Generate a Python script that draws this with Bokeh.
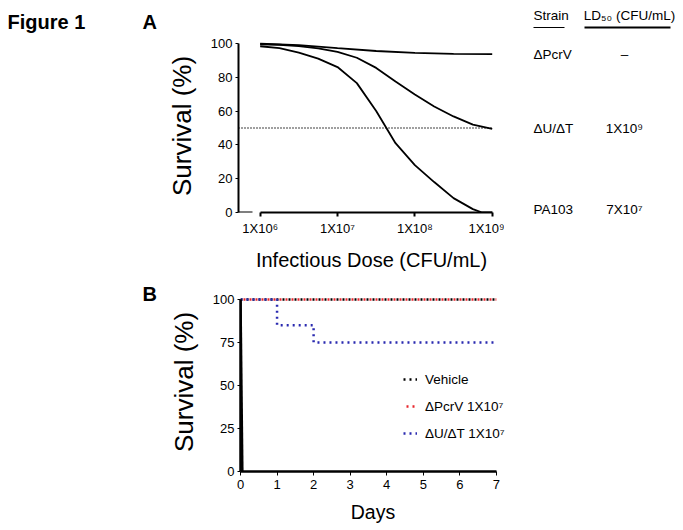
from bokeh.plotting import figure
from bokeh.models import Range1d, FixedTicker, Legend, LegendItem, Arrow, ColumnDataSource
from bokeh.layouts import column, row
from bokeh.embed import file_html
from bokeh.resources import INLINE
from bokeh.core.properties import value

FONT = "Liberation Sans"

# ---------------- Panel A data (log10 infectious dose -> survival %) ----------------
dose_pcrv = [6.0, 6.5, 7.0, 7.5, 8.0, 8.5, 9.0]
surv_pcrv = [99.8, 99.0, 97.2, 95.5, 94.4, 93.8, 93.6]

dose_ut = [6.0, 6.25, 6.5, 6.75, 7.0, 7.25, 7.5, 7.75, 8.0, 8.25, 8.5, 8.75, 9.0]
surv_ut = [99.5, 99.2, 98.4, 97.0, 95.0, 91.5, 85.5, 77.5, 69.8, 62.7, 56.8, 52.0, 49.5]

dose_pa103 = [6.0, 6.25, 6.5, 6.75, 7.0, 7.25, 7.5, 7.75, 8.0, 8.25, 8.5, 8.75, 8.87, 9.0]
surv_pa103 = [98.3, 97.2, 94.5, 91.0, 86.0, 76.5, 60.0, 41.0, 28.0, 18.0, 8.5, 2.0, 0.0, 0.0]

ld50_level = 50
x_ticks_a = [6, 7, 8, 9]
x_tick_labels_a = ["1X10⁶", "1X10⁷", "1X10⁸", "1X10⁹"]
y_ticks_a = [0, 20, 40, 60, 80, 100]

strains = ["ΔPcrV", "ΔU/ΔT", "PA103"]
ld50_values = ["–", "1X10⁹", "7X10⁷"]
table_headers = ["Strain", "LD₅₀ (CFU/mL)"]

# ---------------- Panel B data (days -> survival %) ----------------
days_vehicle = [0, 7]
surv_vehicle = [100, 100]
days_pcrv = [0, 7]
surv_pcrv_b = [100, 100]
days_ut = [0, 1, 2, 7]
surv_ut_b = [100, 85, 75, 75]
days_pa103 = [0, 0.05]
surv_pa103_b = [100, 0]
x_ticks_b = [0, 1, 2, 3, 4, 5, 6, 7]
y_ticks_b = [0, 25, 50, 75, 100]
legend_labels = ["Vehicle", "ΔPcrV 1X10⁷", "ΔU/ΔT 1X10⁷"]

panel_titles = ["Figure 1", "A", "B"]

# ---------------- layout geometry (page pixels) ----------------
LW = 160            # left strip holding "Figure 1", "A", "B"
HA = 273            # height of panel A row
HB = 250            # height of panel B figure
TOTAL_H = HA + HB
TABLE_LEFT = 504
TABLE_W = 176

# ---------------- Panel A ----------------
A_FRAME_LEFT = 238
A_FRAME_BOTTOM = 212
XA0 = 5.72
PX_DEC = 77.35
FW_A = TABLE_LEFT - A_FRAME_LEFT
XA1 = XA0 + FW_A / PX_DEC
PX_PCT_A = 1.69
YA1 = 102.3
FH_A = int(round(YA1 * PX_PCT_A))
TA = A_FRAME_BOTTOM - FH_A

def ax(px):  # page px -> data x (panel A)
    return XA0 + (px - A_FRAME_LEFT) / PX_DEC

def a_py(v):  # survival value -> page px (panel A)
    return A_FRAME_BOTTOM - v * FH_A / YA1

pa = figure(frame_width=FW_A, frame_height=FH_A,
            x_range=Range1d(XA0, XA1), y_range=Range1d(0, YA1),
            output_backend="svg", toolbar_location=None, title=None,
            min_border_left=A_FRAME_LEFT - LW, min_border_right=0,
            min_border_top=TA, min_border_bottom=HA - FH_A - TA)
pa.frame_align = False
pa.outline_line_color = None
pa.grid.visible = False

for xs, ys in [(dose_pcrv, surv_pcrv), (dose_ut, surv_ut), (dose_pa103, surv_pa103)]:
    pa.line(xs, ys, line_color="black", line_width=1.8)

pa.line([XA0, x_ticks_a[-1]], [ld50_level, ld50_level], line_color="black",
        line_width=1.5, line_dash="1 2")

xa = pa.xaxis[0]
xa.ticker = FixedTicker(ticks=x_ticks_a)
xa.major_label_overrides = {t: l for t, l in zip(x_ticks_a, x_tick_labels_a)}
xa.bounds = (x_ticks_a[0], x_ticks_a[-1])
xa.minor_tick_line_color = None
xa.axis_line_width = 2
xa.major_tick_line_width = 2
xa.major_tick_out = 4
xa.major_tick_in = 0
xa.major_label_standoff = 4
xa.major_label_text_font = FONT
xa.major_label_text_font_size = "13px"
xa.major_label_text_color = "black"
xa.axis_label = "Infectious Dose (CFU/mL)"
xa.axis_label_text_font = FONT
xa.axis_label_text_font_size = "20px"
xa.axis_label_text_font_style = "normal"
xa.axis_label_text_color = "black"
xa.axis_label_standoff = 10

ya = pa.yaxis[0]
ya.ticker = FixedTicker(ticks=y_ticks_a)
ya.bounds = (0, 100)
ya.minor_tick_line_color = None
ya.axis_line_width = 2
ya.major_tick_out = 3
ya.major_tick_in = 0
ya.major_label_standoff = 3
ya.major_label_text_font = FONT
ya.major_label_text_font_size = "13px"
ya.major_label_text_color = "black"
ya.axis_label = "Survival (%)"
ya.axis_label_text_font = FONT
ya.axis_label_text_font_size = "26px"
ya.axis_label_text_font_style = "normal"
ya.axis_label_text_color = "black"
ya.axis_label_standoff = 11

# broken x-axis stub
pa.add_layout(Arrow(end=None, x_start=XA0, y_start=0, x_end=ax(252), y_end=0,
                    line_width=2, line_color="black"))

# ---------------- table to the right of panel A ----------------
pt = figure(frame_width=TABLE_W, frame_height=HA,
            x_range=Range1d(TABLE_LEFT, TABLE_LEFT + TABLE_W),
            y_range=Range1d(HA, 0), output_backend="svg", toolbar_location=None, title=None,
            x_axis_location=None, y_axis_location=None,
            min_border_left=0, min_border_right=0, min_border_top=0, min_border_bottom=0)
pt.frame_align = False
pt.outline_line_color = None
pt.grid.visible = False

row_y = [a_py(surv_pcrv[-1]), a_py(surv_ut[-1]), a_py(surv_pa103[-1]) - 3.5]
tab = ColumnDataSource(dict(x1=[533] * 3, x2=[624] * 3, y=row_y, s=strains, l=ld50_values))
pt.text(x="x1", y="y", text="s", source=tab, text_font=value(FONT),
        text_font_size="13.5px", text_baseline="middle", text_align="left", text_color="black")
pt.text(x="x2", y="y", text="l", source=tab, text_font=value(FONT),
        text_font_size="13.5px", text_baseline="middle", text_align="center", text_color="black")
pt.text(x=[533, 629], y=[15, 15], text=table_headers, text_font=value(FONT),
        text_font_size="13.5px", text_baseline="middle", text_align=["left", "center"],
        text_color="black")
pt.segment(x0=[533, 584], y0=[27, 27], x1=[564, 670], y1=[27, 27], line_color="black",
           line_width=[1.2, 2.2])

# ---------------- Panel B ----------------
B_FRAME_LEFT = 240
PX_DAY = 36.57
XB1 = 7.25
FW_B = int(round(XB1 * PX_DAY))
PX_PCT = 1.72
YB1 = 104
FH_B = int(round(YB1 * PX_PCT))
B_FRAME_BOTTOM = 471
TB = B_FRAME_BOTTOM - FH_B - HA
BB = HB - TB - FH_B

pb = figure(frame_width=FW_B, frame_height=FH_B,
            x_range=Range1d(0, XB1), y_range=Range1d(0, YB1),
            output_backend="svg", toolbar_location=None, title=None,
            min_border_left=B_FRAME_LEFT - LW, min_border_right=0,
            min_border_top=TB, min_border_bottom=BB)
pb.frame_align = False
pb.outline_line_color = None
pb.grid.visible = False

r_veh = pb.line(days_vehicle, surv_vehicle, line_color="black", line_width=2.5, line_dash="2 4")
r_pcrv = pb.line(days_pcrv, surv_pcrv_b, line_color="#e8262c", line_width=2.5, line_dash="2 4",
                 line_dash_offset=3)
r_ut = pb.step(days_ut, surv_ut_b, mode="after", line_color="#2a2ab0", line_width=2.5,
               line_dash="2 4")
pb.line(days_pa103, surv_pa103_b, line_color="black", line_width=2.5)

xb = pb.xaxis[0]
xb.ticker = FixedTicker(ticks=x_ticks_b)
xb.bounds = (x_ticks_b[0], x_ticks_b[-1])
xb.minor_tick_line_color = None
xb.axis_line_width = 2.5
xb.major_tick_out = 4
xb.major_tick_in = 0
xb.major_label_standoff = 4
xb.major_label_text_font = FONT
xb.major_label_text_font_size = "13px"
xb.major_label_text_color = "black"
xb.axis_label = "Days"
xb.axis_label_text_font = FONT
xb.axis_label_text_font_size = "19.5px"
xb.axis_label_text_font_style = "normal"
xb.axis_label_text_color = "black"
xb.axis_label_standoff = 9

yb = pb.yaxis[0]
yb.ticker = FixedTicker(ticks=y_ticks_b)
yb.bounds = (0, 100)
yb.minor_tick_line_color = None
yb.axis_line_width = 2.5
yb.major_tick_out = 3
yb.major_tick_in = 0
yb.major_label_standoff = 3
yb.major_label_text_font = FONT
yb.major_label_text_font_size = "13px"
yb.major_label_text_color = "black"
yb.axis_label = "Survival (%)"
yb.axis_label_text_font = FONT
yb.axis_label_text_font_size = "26px"
yb.axis_label_text_font_style = "normal"
yb.axis_label_text_color = "black"
yb.axis_label_standoff = 11

legend = Legend(items=[LegendItem(label=lab, renderers=[r])
                       for lab, r in zip(legend_labels, [r_veh, r_pcrv, r_ut])],
                location=(163, 30), orientation="vertical")
legend.border_line_color = None
legend.background_fill_alpha = 0
legend.padding = 0
legend.margin = 0
legend.spacing = 11
legend.glyph_width = 14
legend.glyph_height = 16
legend.label_height = 16
legend.label_standoff = 8
legend.label_text_font = FONT
legend.label_text_font_size = "13.5px"
legend.label_text_color = "black"
pb.add_layout(legend)

# ---------------- left strip with figure / panel titles ----------------
pl = figure(frame_width=LW, frame_height=TOTAL_H, x_range=Range1d(0, LW),
            y_range=Range1d(TOTAL_H, 0),
            output_backend="svg", toolbar_location=None, title=None,
            x_axis_location=None, y_axis_location=None,
            min_border_left=0, min_border_right=0, min_border_top=0, min_border_bottom=0)
pl.frame_align = False
pl.outline_line_color = None
pl.grid.visible = False
pl.text(x=[7, 142, 142], y=[21, 21, 293], text=panel_titles, text_font=value(FONT),
        text_font_size="20px", text_font_style="bold", text_baseline="alphabetic",
        text_color="black")

layout = row(pl, column(row(pa, pt, spacing=0), pb, spacing=0), spacing=0)
open("out.html", "w").write(file_html(layout, INLINE))
